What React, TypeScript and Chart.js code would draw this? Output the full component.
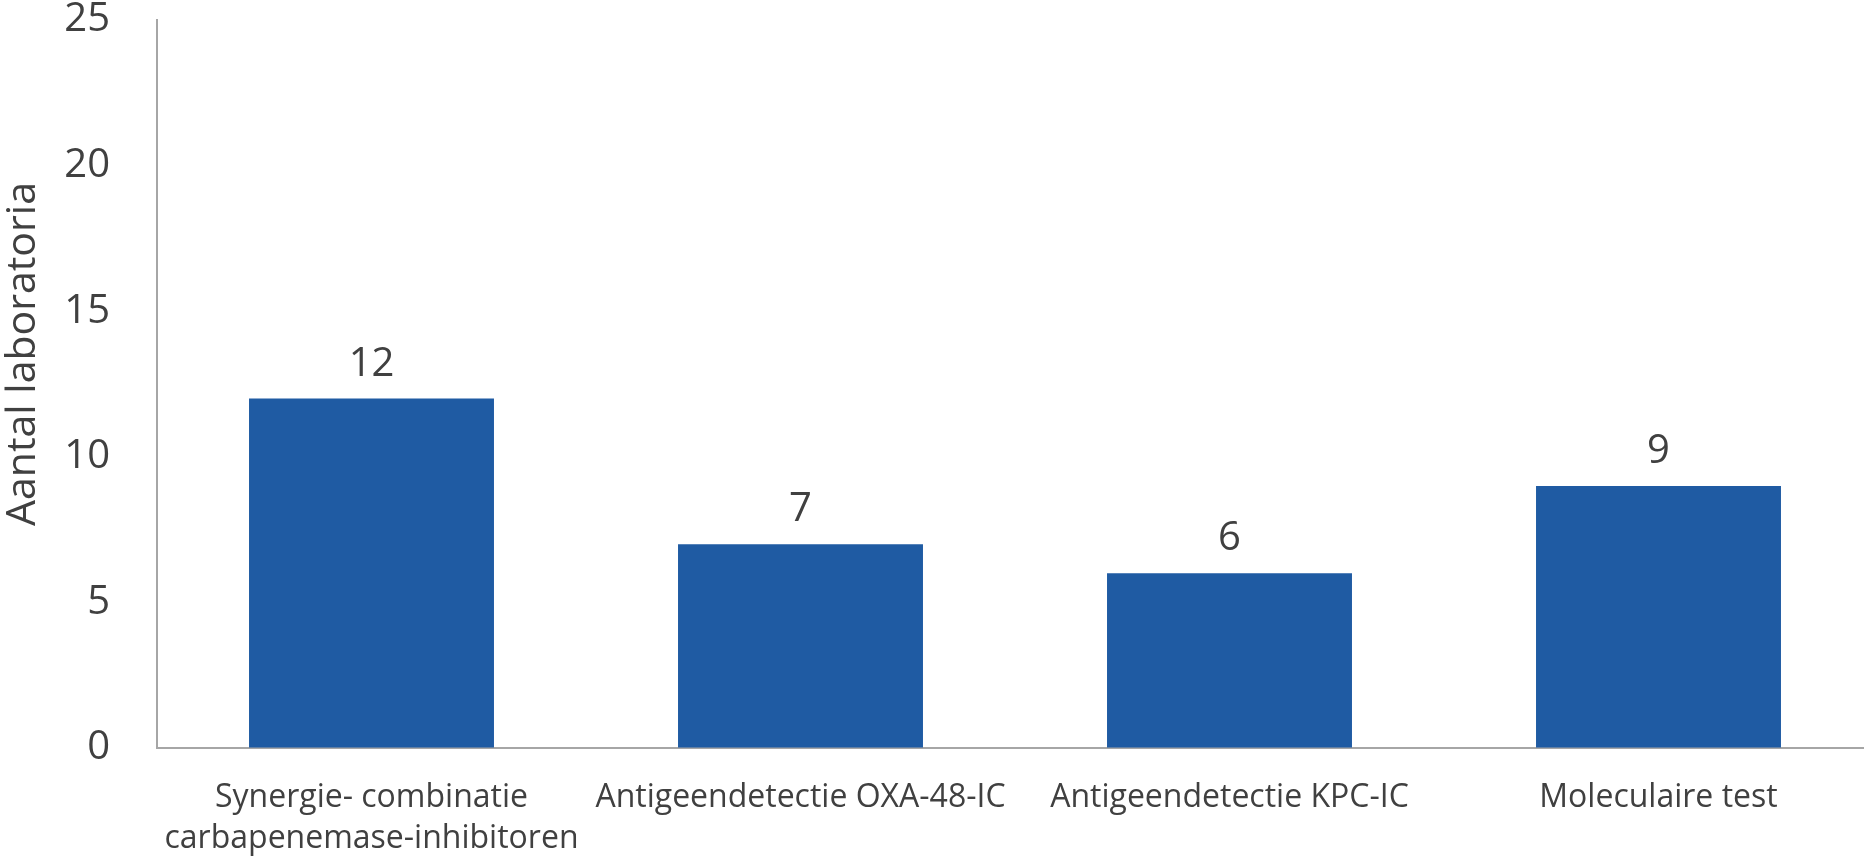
import React, { useEffect, useRef } from "react";
import { Chart, registerables } from "chart.js";

Chart.register(...registerables);

const categories: (string | string[])[] = [
  ["Synergie- combinatie", "carbapenemase-inhibitoren"],
  "Antigeendetectie OXA-48-IC",
  "Antigeendetectie KPC-IC",
  "Moleculaire test",
];
const values: number[] = [12, 7, 6, 9];
const yMin = 0;
const yMax = 25;
const yStep = 5;
const yTitle = "Aantal laboratoria";

const FONT = "'Open Sans', 'Noto Sans', sans-serif";
const TEXT = "#404040";
const BAR = "#1F5BA3";
const AXIS = "#A6A6A6";

const overlayPlugin = {
  id: "overlay",
  afterDatasetsDraw(chart: any) {
    const ctx = chart.ctx;
    const meta = chart.getDatasetMeta(0);
    ctx.save();
    ctx.fillStyle = TEXT;
    ctx.font = `40px ${FONT}`;
    ctx.textAlign = "center";
    ctx.textBaseline = "alphabetic";
    meta.data.forEach((bar: any, i: number) => {
      ctx.fillText(String(values[i]), bar.x, bar.y - 23);
    });
    ctx.restore();

    // axis title
    const area = chart.chartArea;
    ctx.save();
    ctx.fillStyle = TEXT;
    ctx.font = `41px ${FONT}`;
    ctx.textAlign = "center";
    ctx.textBaseline = "middle";
    ctx.translate(23, (area.top + area.bottom) / 2 - 30);
    ctx.rotate(-Math.PI / 2);
    ctx.fillText(yTitle, 0, 0);
    ctx.restore();
  },
};

export default function App() {
  const ref = useRef<HTMLCanvasElement | null>(null);

  useEffect(() => {
    if (!ref.current) return;
    const chart = new Chart(ref.current, {
      type: "bar",
      data: {
        labels: categories,
        datasets: [
          {
            data: values,
            backgroundColor: BAR,
            borderWidth: 0,
            barPercentage: 0.571,
            categoryPercentage: 1,
          },
        ],
      },
      options: {
        animation: false,
        responsive: true,
        maintainAspectRatio: false,
        layout: { padding: { top: 20, right: 7, bottom: 0, left: 0 } },
        plugins: {
          legend: { display: false },
          tooltip: { enabled: false },
          title: { display: false },
        },
        scales: {
          x: {
            grid: { display: true, drawOnChartArea: false, drawTicks: false, color: "transparent" },
            border: { display: true, color: AXIS, width: 2 },
            ticks: {
              color: TEXT,
              font: { family: FONT, size: 32, lineHeight: 1.26 },
              padding: 30,
              maxRotation: 0,
              autoSkip: false,
            },
            afterFit: (scale: any) => {
              scale.height = 117;
              scale.paddingTop = 0;
              scale.paddingBottom = 0;
            },
          },
          y: {
            min: yMin,
            max: yMax,
            grid: { display: true, drawOnChartArea: false, drawTicks: false, color: "transparent" },
            border: { display: true, color: AXIS, width: 2 },
            ticks: {
              stepSize: yStep,
              color: TEXT,
              font: { family: FONT, size: 40, lineHeight: 1.0 },
              padding: 47,
            },
            afterFit: (scale: any) => {
              scale.width = 157;
              scale.paddingTop = 0;
              scale.paddingBottom = 0;
            },
          },
        },
      },
      plugins: [overlayPlugin],
    });
    return () => chart.destroy();
  }, []);

  return (
    <div
      style={{
        position: "absolute",
        left: 0,
        top: 0,
        width: 1864,
        height: 865,
        overflow: "hidden",
        background: "#ffffff",
      }}
    >
      <div style={{ position: "relative", width: 1880, height: 865 }}>
        <canvas ref={ref} />
      </div>
    </div>
  );
}
